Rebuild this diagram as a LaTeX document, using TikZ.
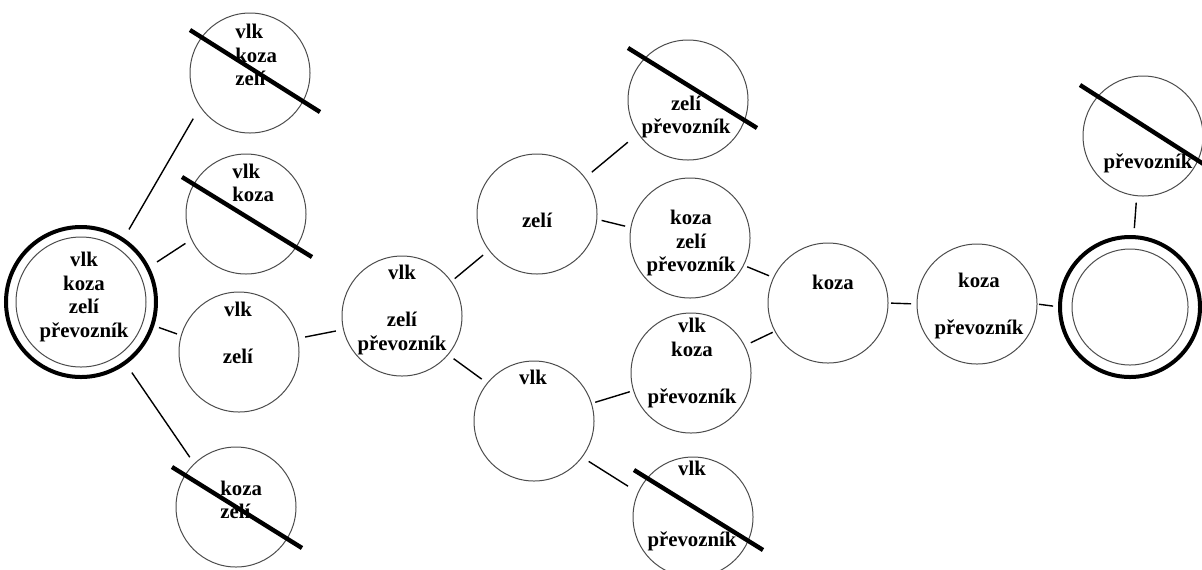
\documentclass[tikz,border=0pt]{standalone}
\usepackage{fontspec}
\setmainfont{Liberation Serif}
\usepackage{tikz}
\usetikzlibrary{calc}

\tikzset{
  state/.style={circle, draw=black!70, line width=0.5pt, minimum size=60pt, inner sep=0pt, outer sep=0pt},
  ring/.style={state, draw=black, line width=2pt},
  inner ring/.style={draw=black!70, line width=0.5pt},
  txt/.style={font=\fontsize{10.4}{11.8}\selectfont\bfseries, inner sep=0pt, align=center},
  link/.style={line width=0.7pt, shorten <=3.5pt, shorten >=3.5pt},
  crossline/.style={line width=2.2pt},
}

\begin{document}
\begin{tikzpicture}[x=0.5pt, y=-0.5pt]
    \useasboundingbox (0,0) rectangle (1202,569);

    % States (centres in px, y downwards)
    \foreach \name/\x/\y in {vkz/250/73, vk/246/214, vz/239/352, kz/236/507,
                             vzp/402/316, z/537/214, zp/688/100, kzp/690/238,
                             v/534/421, vkp/691/373, vp/693/517,
                             k/828/303, kp/977/304, p/1143/136}{
        \node[state] (\name) at (\x,\y) {};
    }

    % Start and goal (double rings)
    \node[ring, minimum size=75pt] (vkzp) at (81,302) {};
    \draw[inner ring] (vkzp.center) circle[radius=32.5pt];
    \node[ring, minimum size=70pt] (empty) at (1130,307) {};
    \draw[inner ring] (empty.center) circle[radius=29pt];

    % Who is still on the left bank
    \node[txt] (tvkzp) at (84,297) {vlk\\koza\\zelí\\převozník};
    \node[txt, align=left, anchor=west] (tvkz) at (235,55) {vlk\\koza\\zelí};
    \node[txt, align=left, anchor=west] (tvk) at (232,183) {vlk\\koza};
    \node[txt] (tvz) at (238,333) {vlk\\\mbox{}\\zelí};
    \node[txt, align=left, anchor=west] (tkz) at (220,500) {koza\\zelí};
    \node[txt] (tvzp) at (402,310) {vlk\\\mbox{}\\zelí\\převozník};
    \node[txt] (tz) at (537,220) {zelí};
    \node[txt] (tzp) at (686,117) {zelí\\převozník};
    \node[txt] (tkzp) at (691,243) {koza\\zelí\\převozník};
    \node[txt] (tv) at (533,377) {vlk};
    \node[txt] (tvkp) at (692,363) {vlk\\koza\\\mbox{}\\převozník};
    \node[txt] (tvp) at (692,506) {vlk\\\mbox{}\\\mbox{}\\převozník};
    \node[txt] (tk) at (833,282) {koza};
    \node[txt] (tkp) at (979,306) {koza\\\mbox{}\\převozník};
    \node[txt] (tp) at (1148,163) {převozník};

    % Moves
    \draw[link, shorten <=6pt, shorten >=7pt] (vkzp.56) -- (vkz.214);
    \draw[link, shorten <=5.5pt, shorten >=3.7pt] (vkzp.27) -- (vk.205);
    \draw[link, shorten >=2.3pt] (vkzp.-18) -- (vz.164);
    \draw[link, shorten <=6pt, shorten >=4pt] (vkzp.-54) -- (kz.134);
    \draw[link, shorten <=3.9pt, shorten >=3.9pt] (vz.13) -- (vzp.193);
    \draw[link, shorten <=2.3pt, shorten >=3.9pt] (vzp.35) -- (z.217);
    \draw[link] (vzp.-40) -- (v.141);
    \draw[link, shorten <=4.5pt, shorten >=6.8pt] (z.37) -- (zp.214);
    \draw[link, shorten <=2.5pt, shorten >=3pt] (z.-5) -- (kzp.170);
    \draw[link, shorten <=2pt, shorten >=2.5pt] (kzp.-27) -- (k.155);
    \draw[link, shorten <=2pt, shorten >=2pt] (v.17) -- (vkp.197);
    \draw[link, shorten <=4pt, shorten >=6pt] (v.-37) -- (vp.156);
    \draw[link, shorten >=1.3pt] (vkp.27) -- (k.208);
    \draw[link, shorten <=1.5pt, shorten >=3pt] (k.0) -- (kp.180);
    \draw[link, shorten <=1pt] (kp.0) -- (empty.180);
    \draw[link, shorten <=4.5pt] (empty.87) -- (p.264);

    % Forbidden states are struck out
    \draw[crossline] ([shift={(-60,-43)}]vkz.center) -- ([shift={(70,39)}]vkz.center);
    \draw[crossline] ([shift={(-64,-37)}]vk.center) -- ([shift={(66,43)}]vk.center);
    \draw[crossline] ([shift={(-64,-40)}]kz.center) -- ([shift={(66,41)}]kz.center);
    \draw[crossline] ([shift={(-60,-52)}]zp.center) -- ([shift={(69,28)}]zp.center);
    \draw[crossline] ([shift={(-59,-47)}]vp.center) -- ([shift={(70,33)}]vp.center);
    \draw[crossline] ([shift={(-63,-51)}]p.center) -- ([shift={(62,29)}]p.center);
\end{tikzpicture}
\end{document}
